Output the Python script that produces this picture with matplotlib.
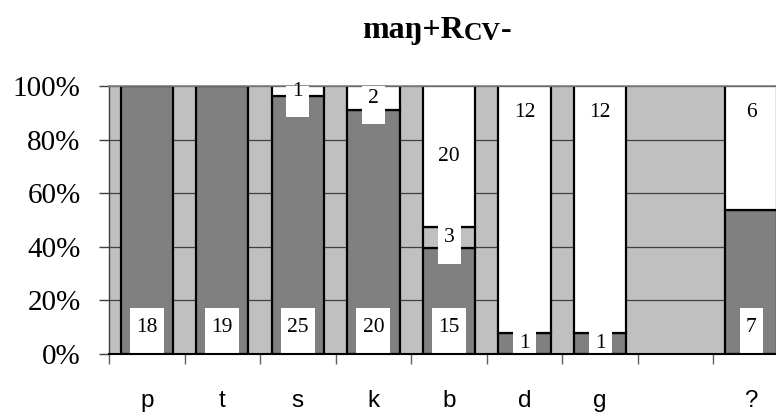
import numpy as np
import matplotlib
matplotlib.use("Agg")
import matplotlib.pyplot as plt
from matplotlib.patches import Rectangle
from matplotlib.ticker import FixedLocator, PercentFormatter

categorias = ["p", "t", "s", "k", "b", "d", "g", "", "?"]
oscuro = [18, 19, 25, 20, 15, 1, 1, 0, 7]
medio = [0, 0, 0, 0, 3, 0, 0, 0, 0]
blanco = [0, 0, 1, 2, 20, 12, 12, 0, 6]
# donde va la etiqueta del segmento blanco: centro o extremo superior
pos_blanco = ["c", "c", "c", "c", "c", "fin", "fin", "c", "fin"]

W, H = 776, 419
ax_w, ax_h = 680, 268
fig = plt.figure(figsize=(W / 100, H / 100), dpi=100)
ax = fig.add_axes([109 / W, 65 / H, ax_w / W, ax_h / H])
ax.set_facecolor("#C0C0C0")

x = np.arange(len(categorias))
osc = np.array(oscuro, float)
med = np.array(medio, float)
bla = np.array(blanco, float)
total = osc + med + bla
tot = np.where(total == 0, 1, total)
f_osc = osc / tot
f_med = med / tot
f_bla = bla / tot

ancho = 0.69
kw = dict(width=ancho, edgecolor="black", linewidth=1.6, zorder=2)
ax.bar(x[osc > 0], f_osc[osc > 0], color="#808080", **kw)
ax.bar(x[med > 0], f_med[med > 0], bottom=f_osc[med > 0], color="#C0C0C0", **kw)
ax.bar(x[bla > 0], f_bla[bla > 0], bottom=(f_osc + f_med)[bla > 0], color="white", **kw)

# pixeles -> unidades de datos
px_x = len(categorias) / ax_w
px_y = 1.0 / ax_h


def etiqueta(xi, yc, valor):
    s = str(valor)
    w = (12 + 11 * len(s)) * px_x
    ax.add_patch(Rectangle((xi - w / 2, yc - 26 * px_y), w, 45 * px_y,
                           facecolor="white", edgecolor="none", zorder=3.5))
    ax.text(xi, yc, s, family="Liberation Serif", fontsize=15.5,
            ha="center", va="center", zorder=4)


for i in range(len(categorias)):
    if osc[i] > 0:
        etiqueta(x[i], min(f_osc[i] / 2, 0.10), oscuro[i])
    if med[i] > 0:
        etiqueta(x[i], f_osc[i] + f_med[i] / 2, medio[i])
    if bla[i] > 0:
        base = f_osc[i] + f_med[i]
        if pos_blanco[i] == "fin":
            y = 0.90
        else:
            y = base + f_bla[i] / 2
        etiqueta(x[i], y, blanco[i])

ax.set_xlim(-0.5, len(categorias) - 0.5)
ax.set_ylim(0, 1)
ax.yaxis.set_major_locator(FixedLocator([0, 0.2, 0.4, 0.6, 0.8, 1.0]))
ax.yaxis.set_major_formatter(PercentFormatter(1.0, decimals=0))
ax.yaxis.grid(True, color="#404040", linewidth=0.9, zorder=1)
ax.set_axisbelow(True)

ax.set_xticks(x)
ax.set_xticklabels(categorias, family="Liberation Sans", fontsize=17.5)
ax.set_xticks(np.arange(len(categorias) + 1) - 0.5, minor=True)
ax.tick_params(axis="x", which="major", length=0, pad=26)
ax.tick_params(axis="x", which="minor", length=7.5, width=1, color="#606060", direction="out")
ax.tick_params(axis="y", length=7.5, width=1, color="#404040", pad=13)
for lab in ax.get_yticklabels():
    lab.set_family("Liberation Serif")
    lab.set_fontsize(21)

ax.spines["right"].set_visible(False)
ax.spines["top"].set_color("#808080")
ax.spines["top"].set_linewidth(1.2)
ax.spines["left"].set_color("#404040")
ax.spines["left"].set_linewidth(1)
ax.spines["bottom"].set_color("black")
ax.spines["bottom"].set_linewidth(1.5)
ax.spines["bottom"].set_zorder(5)

# titulo con subindice
r = fig.canvas.get_renderer()
tf = dict(family="Liberation Serif", weight="bold", va="baseline", ha="left")
t1 = fig.text(362 / W, 1 - 38 / H, "maŋ+R", fontsize=23, **tf)
bb = t1.get_window_extent(r)
t2 = fig.text(bb.x1 / W, 1 - 40 / H, "CV", fontsize=18.5, **tf)
bb2 = t2.get_window_extent(r)
fig.text(bb2.x1 / W, 1 - 38 / H, "-", fontsize=23, **tf)

fig.savefig("out.png", dpi=100)
